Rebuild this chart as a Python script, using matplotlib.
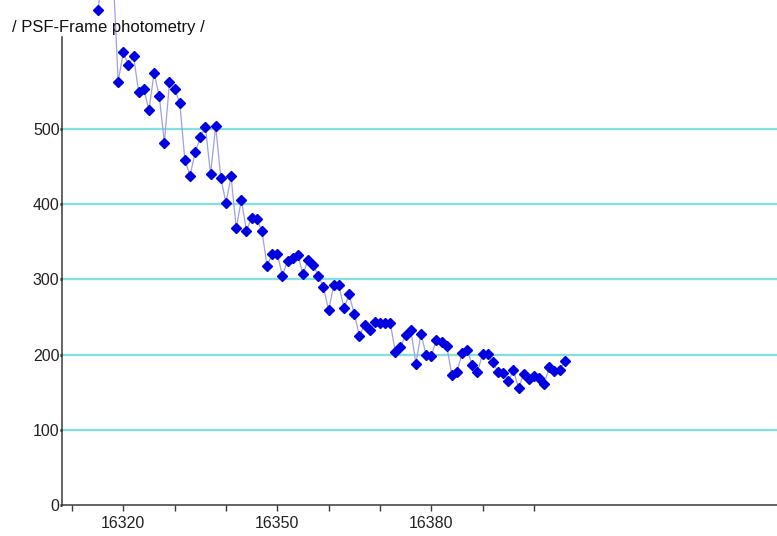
import matplotlib
matplotlib.use("Agg")
import matplotlib.pyplot as plt

plt.rcParams['font.family'] = ['Liberation Sans', 'DejaVu Sans']

# JD - 2440000 (roughly one frame per day), flux values
days = [16315, 16316, 16317, 16318, 16319, 16320, 16321, 16322, 16323, 16324,
        16325, 16326, 16327, 16328, 16329, 16330, 16331, 16332, 16333, 16334,
        16335, 16336, 16337, 16338, 16339, 16340, 16341, 16342, 16343, 16344,
        16345, 16346, 16347, 16348, 16349, 16350, 16351, 16352, 16353, 16354,
        16355, 16356, 16357, 16358, 16359, 16360, 16361, 16362, 16363, 16364,
        16365, 16366, 16367, 16368, 16369, 16370, 16371, 16372, 16373, 16374,
        16375, 16376, 16377, 16378, 16379, 16380, 16381, 16382, 16383, 16384,
        16385, 16386, 16387, 16388, 16389, 16390, 16391, 16392, 16393, 16394,
        16395, 16396, 16397, 16398, 16399, 16400, 16401, 16402, 16403, 16404,
        16405, 16406]
flux = [658, 700, 720, 710, 563, 602, 585, 597, 549, 553,
        525, 575, 544, 482, 562, 553, 535, 459, 438, 469,
        489, 503, 440, 504, 435, 402, 437, 368, 406, 365,
        382, 380, 365, 318, 334, 334, 305, 325, 328, 333,
        307, 326, 319, 305, 290, 259, 292, 292, 262, 280,
        254, 225, 240, 233, 244, 242, 242, 242, 204, 210,
        226, 233, 188, 228, 199, 198, 220, 217, 212, 173,
        177, 202, 206, 186, 177, 201, 201, 190, 177, 176,
        165, 179, 156, 174, 168, 172, 169, 161, 184, 178,
        180, 191]

xticks = [16310, 16320, 16330, 16340, 16350, 16360, 16370, 16380, 16390, 16400]
xlabels = ['', '16320', '', '', '16350', '', '', '16380', '', '']
yticks = [0, 100, 200, 300, 400, 500]
grid_levels = [100, 200, 300, 400, 500]

W, H = 777, 536
fig = plt.figure(figsize=(W / 100, H / 100), dpi=100)
# axes box in pixel terms: left 62, right 777, top 37, bottom 505
ax = fig.add_axes([62 / W, (H - 505) / H, (777 - 62) / W, (505 - 37) / H])

for g in grid_levels:
    ax.axhline(g, color='#80e0e4', lw=1.6, zorder=1)

ax.plot(days, flux, color='#a0a0e6', lw=0.9, zorder=2, clip_on=False)
ax.plot(days, flux, ls='none', marker='D', ms=5, color='#0000e0',
        mec='#0000e0', zorder=3, clip_on=False)

ax.set_xlim(16308.06, 16447.35)
ax.set_ylim(0, 622.5)

ax.set_xticks(xticks)
ax.set_xticklabels(xlabels)
ax.set_yticks(yticks)
ax.set_yticklabels([str(v) for v in yticks])

for s in ['top', 'right']:
    ax.spines[s].set_visible(False)
for s in ['left', 'bottom']:
    ax.spines[s].set_color('#3a3a3a')
    ax.spines[s].set_linewidth(1.1)

ax.tick_params(axis='x', length=4, width=1, color='#3a3a3a', pad=4,
               labelsize=11.5, labelcolor='#222222')
ax.tick_params(axis='y', length=1.5, width=2, color='#222222', pad=0.3,
               labelsize=11.5, labelcolor='#222222')

fig.text(12 / W, 1 - 32 / H, '/ PSF-Frame photometry /', fontsize=12,
         va='baseline', ha='left', color='#111111')

fig.savefig('out.png', dpi=100)
